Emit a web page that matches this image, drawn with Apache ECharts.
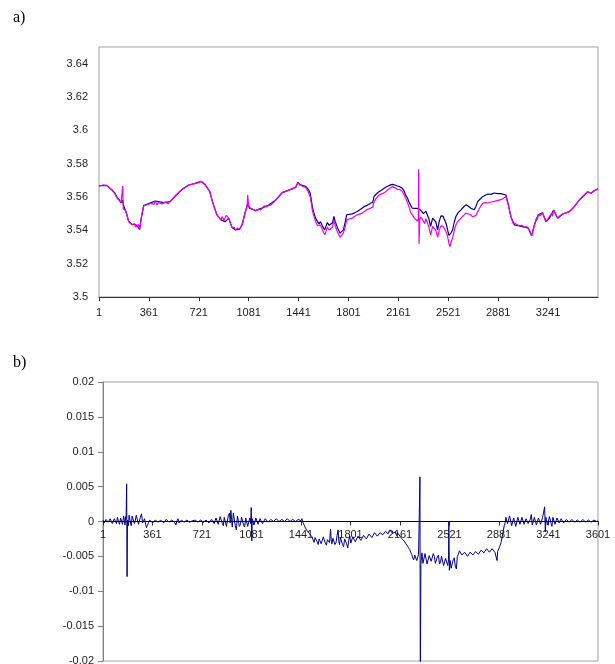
<!DOCTYPE html>
<html>
<head>
<meta charset="utf-8">
<title>a) / b)</title>
<script src="https://cdn.jsdelivr.net/npm/echarts@6/dist/echarts.min.js"></script>
<style>
  html, body { margin: 0; padding: 0; background: #fff; }
  #main { width: 615px; height: 664px; }
</style>
</head>
<body>
<div id="main"></div>
<script>
// panel a) — [sample index - 1, value]
const magentaPts = [
  [0,3.5666],[30,3.5672],[58,3.5670],[94,3.5640],[115,3.5618],[130,3.5594],[145,3.5580],[159,3.5564],[168,3.5560],[171,3.5666],
  [175,3.5530],[178,3.5542],[190,3.5520],[197,3.5504],[214,3.5452],[225,3.5440],[238,3.5433],[248,3.5445],[255,3.5438],[265,3.5420],
  [274,3.5427],[285,3.5436],[293,3.5403],[305,3.5473],[322,3.5546],[340,3.5552],[350,3.5545],[358,3.5558],[365,3.5565],[380,3.5562],
  [395,3.5555],[406,3.5576],[418,3.5552],[428,3.5568],[440,3.5562],[455,3.5558],[467,3.5566],[478,3.5570],[490,3.5562],[500,3.5560],
  [514,3.5572],[530,3.5588],[550,3.5606],[575,3.5628],[599,3.5646],[620,3.5656],[647,3.5672],[670,3.5676],[695,3.5682],[715,3.5686],
  [736,3.5694],[755,3.5684],[767,3.5672],[785,3.5650],[799,3.5632],[810,3.5600],[822,3.5562],[836,3.5528],[851,3.5493],[858,3.5505],
  [865,3.5478],[872,3.5470],[880,3.5463],[888,3.5482],[895,3.5470],[903,3.5460],[911,3.5452],[918,3.5490],[925,3.5480],[936,3.5473],
  [942,3.5460],[948,3.5440],[953,3.5435],[959,3.5419],[970,3.5410],[977,3.5418],[983,3.5403],[990,3.5398],[1000,3.5412],[1008,3.5420],
  [1015,3.5407],[1023,3.5398],[1032,3.5433],[1056,3.5512],[1068,3.5540],[1073,3.5612],[1080,3.5540],[1087,3.5533],[1105,3.5528],[1128,3.5518],
  [1140,3.5530],[1150,3.5526],[1165,3.5522],[1176,3.5533],[1190,3.5545],[1200,3.5546],[1215,3.5545],[1225,3.5552],[1239,3.5552],[1260,3.5568],
  [1275,3.5582],[1300,3.5606],[1322,3.5626],[1350,3.5634],[1383,3.5646],[1400,3.5650],[1419,3.5658],[1436,3.5688],[1448,3.5672],[1460,3.5666],
  [1491,3.5658],[1510,3.5630],[1524,3.5602],[1539,3.5522],[1550,3.5485],[1563,3.5452],[1575,3.5430],[1587,3.5419],[1598,3.5432],[1611,3.5403],
  [1628,3.5373],[1640,3.5400],[1647,3.5419],[1660,3.5402],[1671,3.5413],[1685,3.5420],[1695,3.5463],[1705,3.5425],[1719,3.5393],[1739,3.5359],
  [1750,3.5368],[1763,3.5383],[1775,3.5420],[1787,3.5463],[1795,3.5455],[1805,3.5468],[1815,3.5460],[1827,3.5473],[1845,3.5485],[1855,3.5478],
  [1863,3.5493],[1875,3.5488],[1890,3.5500],[1900,3.5495],[1912,3.5512],[1925,3.5508],[1935,3.5525],[1948,3.5518],[1960,3.5533],[1975,3.5540],
  [1984,3.5572],[2000,3.5592],[2010,3.5590],[2020,3.5612],[2030,3.5608],[2045,3.5620],[2055,3.5616],[2068,3.5632],[2080,3.5630],[2090,3.5648],
  [2100,3.5644],[2116,3.5662],[2125,3.5654],[2135,3.5655],[2152,3.5646],[2170,3.5645],[2188,3.5632],[2200,3.5615],[2212,3.5592],[2225,3.5570],
  [2236,3.5542],[2250,3.5505],[2260,3.5493],[2272,3.5478],[2284,3.5482],[2296,3.5455],[2304,3.5470],[2306,3.5766],[2309,3.5319],[2314,3.5462],
  [2322,3.5480],[2332,3.5473],[2340,3.5455],[2350,3.5440],[2358,3.5470],[2368,3.5467],[2380,3.5420],[2392,3.5373],[2400,3.5400],[2407,3.5423],
  [2419,3.5433],[2430,3.5400],[2443,3.5359],[2455,3.5400],[2467,3.5427],[2482,3.5425],[2496,3.5413],[2505,3.5390],[2515,3.5363],[2525,3.5320],
  [2532,3.5303],[2540,3.5330],[2551,3.5353],[2563,3.5400],[2575,3.5433],[2590,3.5455],[2600,3.5450],[2611,3.5473],[2620,3.5468],[2630,3.5490],
  [2647,3.5503],[2665,3.5498],[2683,3.5493],[2695,3.5480],[2707,3.5473],[2720,3.5490],[2732,3.5512],[2750,3.5540],[2768,3.5562],[2780,3.5558],
  [2790,3.5566],[2805,3.5564],[2816,3.5572],[2828,3.5570],[2840,3.5576],[2852,3.5574],[2864,3.5582],[2878,3.5580],[2890,3.5586],[2900,3.5584],
  [2912,3.5592],[2936,3.5602],[2953,3.5552],[2972,3.5482],[2985,3.5445],[2996,3.5433],[3005,3.5440],[3015,3.5438],[3032,3.5427],[3050,3.5430],
  [3068,3.5419],[3085,3.5422],[3097,3.5413],[3110,3.5395],[3121,3.5367],[3133,3.5405],[3145,3.5443],[3157,3.5478],[3163,3.5465],[3169,3.5493],
  [3185,3.5488],[3200,3.5506],[3212,3.5478],[3225,3.5452],[3237,3.5468],[3249,3.5473],[3265,3.5500],[3272,3.5485],[3280,3.5522],[3295,3.5495],
  [3309,3.5473],[3325,3.5488],[3335,3.5482],[3345,3.5498],[3358,3.5492],[3370,3.5505],[3382,3.5500],[3393,3.5512],[3410,3.5525],[3429,3.5542],
  [3447,3.5562],[3465,3.5582],[3483,3.5598],[3501,3.5612],[3525,3.5632],[3549,3.5622],[3573,3.5638],[3600,3.5650]
];
const navyPts = [
  [0,3.5666],[30,3.5670],[58,3.5668],[94,3.5642],[115,3.5622],[130,3.5598],[145,3.5584],[159,3.5566],[168,3.5562],[171,3.5580],
  [175,3.5560],[178,3.5546],[190,3.5522],[197,3.5506],[214,3.5454],[225,3.5442],[238,3.5435],[255,3.5438],[274,3.5429],[293,3.5405],
  [305,3.5475],[322,3.5548],[358,3.5560],[406,3.5576],[467,3.5566],[514,3.5572],[550,3.5606],[599,3.5646],[647,3.5672],[695,3.5682],
  [736,3.5694],[767,3.5672],[799,3.5632],[822,3.5562],[851,3.5493],[880,3.5463],[911,3.5452],[936,3.5473],[959,3.5419],[983,3.5403],
  [1015,3.5407],[1032,3.5433],[1056,3.5512],[1073,3.5560],[1087,3.5533],[1128,3.5518],[1176,3.5533],[1225,3.5552],[1275,3.5582],[1322,3.5626],
  [1383,3.5646],[1419,3.5658],[1436,3.5688],[1448,3.5674],[1460,3.5670],[1491,3.5664],[1510,3.5646],[1524,3.5622],[1539,3.5542],[1550,3.5505],
  [1563,3.5472],[1575,3.5455],[1587,3.5439],[1598,3.5452],[1611,3.5427],[1628,3.5403],[1640,3.5430],[1647,3.5447],[1660,3.5430],[1671,3.5439],
  [1685,3.5446],[1695,3.5483],[1705,3.5450],[1719,3.5419],[1739,3.5383],[1750,3.5392],[1763,3.5403],[1775,3.5445],[1787,3.5493],[1795,3.5485],
  [1805,3.5496],[1815,3.5490],[1827,3.5499],[1845,3.5505],[1855,3.5506],[1863,3.5513],[1875,3.5515],[1890,3.5528],[1900,3.5522],[1912,3.5542],
  [1925,3.5535],[1935,3.5550],[1948,3.5548],[1960,3.5562],[1975,3.5568],[1984,3.5602],[2000,3.5618],[2010,3.5615],[2020,3.5632],[2030,3.5630],
  [2045,3.5645],[2055,3.5640],[2068,3.5658],[2080,3.5652],[2090,3.5668],[2100,3.5664],[2116,3.5676],[2125,3.5674],[2135,3.5672],[2152,3.5666],
  [2170,3.5662],[2188,3.5652],[2200,3.5638],[2212,3.5612],[2225,3.5594],[2236,3.5572],[2250,3.5548],[2260,3.5533],[2272,3.5528],[2284,3.5532],
  [2296,3.5528],[2304,3.5530],[2314,3.5530],[2322,3.5520],[2332,3.5532],[2340,3.5500],[2350,3.5510],[2358,3.5515],[2368,3.5503],[2380,3.5470],
  [2392,3.5423],[2400,3.5450],[2407,3.5473],[2419,3.5483],[2430,3.5450],[2443,3.5403],[2455,3.5455],[2467,3.5487],[2482,3.5485],[2496,3.5483],
  [2505,3.5440],[2515,3.5403],[2525,3.5370],[2532,3.5359],[2540,3.5385],[2551,3.5403],[2563,3.5450],[2575,3.5483],[2590,3.5505],[2600,3.5498],
  [2611,3.5523],[2620,3.5520],[2630,3.5540],[2647,3.5553],[2665,3.5545],[2683,3.5533],[2695,3.5528],[2707,3.5523],[2720,3.5545],[2732,3.5572],
  [2750,3.5588],[2768,3.5602],[2780,3.5608],[2790,3.5612],[2805,3.5618],[2816,3.5622],[2828,3.5616],[2840,3.5618],[2852,3.5624],[2864,3.5626],
  [2878,3.5620],[2890,3.5628],[2900,3.5620],[2912,3.5622],[2936,3.5612],[2953,3.5554],[2972,3.5482],[2996,3.5433],[3032,3.5427],[3068,3.5419],
  [3097,3.5413],[3121,3.5367],[3145,3.5443],[3169,3.5493],[3200,3.5506],[3225,3.5452],[3249,3.5473],[3280,3.5522],[3309,3.5473],[3345,3.5498],
  [3393,3.5512],[3429,3.5542],[3465,3.5582],[3501,3.5612],[3525,3.5632],[3549,3.5622],[3573,3.5638],[3600,3.5650]
];

// panel b) — difference
const diffPts = [
  [0,0.0002],[8,-0.0002],[15,-0.0003],[22,0.0003],[30,0.0004],[38,-0.0001],[45,0.0000],[52,0.0004],[60,0.0005],[68,-0.0003],
  [75,-0.0002],[82,0.0004],[90,0.0003],[98,-0.0003],[105,0.0006],[112,0.0001],[120,-0.0004],[128,0.0005],[135,0.0003],[142,-0.0004],
  [150,0.0008],[155,0.0002],[160,-0.0005],[165,0.0007],[168,0.0004],[172,0.0054],[175,-0.0079],[178,0.0002],[184,-0.0006],[190,0.0009],
  [197,0.0001],[205,-0.0006],[212,0.0008],[220,0.0010],[228,-0.0003],[235,0.0002],[242,0.0009],[250,0.0007],[258,-0.0004],[265,-0.0003],
  [272,0.0006],[280,0.0011],[288,-0.0002],[295,0.0001],[302,0.0004],[310,-0.0004],[316,-0.0009],[322,-0.0006],[330,-0.0002],[340,0.0002],
  [350,0.0001],[360,-0.0002],[370,-0.0003],[380,0.0002],[390,0.0002],[400,-0.0001],[410,-0.0002],[420,0.0002],[430,0.0003],[440,-0.0002],
  [450,-0.0001],[460,0.0003],[470,0.0002],[480,-0.0001],[490,-0.0003],[500,0.0002],[510,0.0001],[520,-0.0001],[530,-0.0005],[538,0.0001],
  [545,0.0004],[552,-0.0002],[560,-0.0001],[570,0.0002],[580,0.0001],[590,-0.0001],[600,-0.0002],[610,0.0002],[620,0.0001],[630,-0.0001],
  [640,-0.0003],[650,0.0001],[660,0.0000],[670,0.0002],[680,0.0002],[690,-0.0001],[700,-0.0001],[710,0.0002],[720,0.0001],[730,-0.0001],
  [740,0.0000],[750,0.0002],[760,0.0002],[770,-0.0002],[780,-0.0001],[790,0.0003],[800,0.0003],[808,-0.0003],[815,-0.0004],[822,0.0005],
  [830,0.0006],[838,-0.0004],[845,-0.0002],[852,0.0007],[860,0.0008],[868,-0.0003],[875,-0.0006],[882,0.0006],[890,0.0004],[898,-0.0007],
  [905,-0.0005],[912,0.0009],[920,0.0012],[925,-0.0002],[930,0.0016],[935,0.0003],[940,-0.0008],[948,0.0012],[955,0.0010],[962,-0.0006],
  [970,-0.0012],[978,0.0008],[985,0.0006],[992,-0.0007],[1000,-0.0004],[1008,0.0006],[1015,0.0007],[1022,-0.0005],[1030,-0.0008],[1038,0.0005],
  [1045,0.0003],[1052,-0.0007],[1060,-0.0006],[1068,0.0005],[1074,-0.0003],[1078,0.0020],[1082,-0.0028],[1086,0.0004],[1090,0.0002],[1098,-0.0005],
  [1105,-0.0006],[1112,0.0005],[1120,0.0004],[1128,-0.0004],[1135,-0.0003],[1142,0.0004],[1150,0.0002],[1160,-0.0003],[1170,-0.0002],[1180,0.0004],
  [1190,0.0003],[1200,-0.0001],[1210,0.0000],[1220,0.0003],[1230,0.0004],[1240,0.0000],[1250,0.0001],[1260,0.0004],[1270,0.0003],[1280,0.0000],
  [1290,-0.0001],[1300,0.0003],[1310,0.0004],[1320,0.0000],[1330,0.0001],[1340,0.0004],[1350,0.0003],[1360,0.0000],[1370,-0.0001],[1380,0.0003],
  [1390,0.0002],[1400,0.0000],[1410,0.0000],[1420,0.0003],[1430,0.0003],[1440,0.0001],[1447,0.0004],[1455,-0.0002],[1465,-0.0006],[1472,-0.0009],
  [1480,-0.0012],[1490,-0.0014],[1500,-0.0017],[1510,-0.0019],[1520,-0.0022],[1527,-0.0026],[1535,-0.0030],[1542,-0.0023],[1550,-0.0021],[1557,-0.0029],
  [1565,-0.0033],[1572,-0.0025],[1580,-0.0024],[1587,-0.0032],[1595,-0.0031],[1602,-0.0022],[1610,-0.0020],[1617,-0.0031],[1625,-0.0034],[1632,-0.0026],
  [1640,-0.0025],[1647,-0.0030],[1655,-0.0011],[1660,-0.0028],[1665,-0.0032],[1672,-0.0024],[1680,-0.0022],[1687,-0.0033],[1695,-0.0030],[1702,-0.0020],
  [1710,-0.0012],[1715,-0.0029],[1720,-0.0033],[1727,-0.0023],[1735,-0.0024],[1742,-0.0033],[1750,-0.0036],[1757,-0.0025],[1765,-0.0026],[1772,-0.0032],
  [1780,-0.0038],[1787,-0.0027],[1795,-0.0021],[1802,-0.0031],[1810,-0.0030],[1817,-0.0022],[1825,-0.0024],[1835,-0.0029],[1845,-0.0028],[1855,-0.0021],
  [1865,-0.0022],[1875,-0.0027],[1885,-0.0026],[1895,-0.0020],[1905,-0.0020],[1915,-0.0025],[1925,-0.0024],[1935,-0.0018],[1945,-0.0019],[1955,-0.0023],
  [1965,-0.0022],[1975,-0.0016],[1985,-0.0017],[1995,-0.0021],[2005,-0.0020],[2015,-0.0016],[2025,-0.0015],[2035,-0.0019],[2045,-0.0018],[2055,-0.0014],
  [2065,-0.0013],[2072,-0.0018],[2080,-0.0017],[2088,-0.0012],[2095,-0.0014],[2105,-0.0017],[2115,-0.0018],[2125,-0.0015],[2135,-0.0020],[2142,-0.0016],
  [2150,-0.0017],[2160,-0.0021],[2170,-0.0024],[2180,-0.0026],[2190,-0.0028],[2200,-0.0031],[2210,-0.0034],[2220,-0.0037],[2230,-0.0040],[2238,-0.0044],
  [2245,-0.0047],[2252,-0.0052],[2260,-0.0055],[2267,-0.0048],[2275,-0.0050],[2282,-0.0056],[2290,-0.0058],[2295,-0.0047],[2300,-0.0049],[2305,0.0064],
  [2308,-0.0260],[2312,-0.0062],[2316,-0.0050],[2320,-0.0045],[2327,-0.0060],[2335,-0.0058],[2342,-0.0046],[2350,-0.0048],[2357,-0.0061],[2365,-0.0060],
  [2372,-0.0049],[2380,-0.0047],[2387,-0.0057],[2395,-0.0056],[2402,-0.0046],[2410,-0.0050],[2417,-0.0060],[2425,-0.0062],[2432,-0.0051],[2440,-0.0048],
  [2447,-0.0061],[2455,-0.0058],[2462,-0.0050],[2470,-0.0052],[2477,-0.0063],[2485,-0.0064],[2492,-0.0053],[2500,-0.0055],[2507,-0.0063],[2513,-0.0055],
  [2515,0.0000],[2519,-0.0070],[2525,-0.0056],[2532,-0.0067],[2540,-0.0066],[2547,-0.0055],[2555,-0.0052],[2562,-0.0064],[2570,-0.0068],[2577,-0.0050],
  [2585,-0.0047],[2592,-0.0042],[2600,-0.0044],[2610,-0.0048],[2620,-0.0050],[2630,-0.0044],[2640,-0.0045],[2650,-0.0050],[2660,-0.0049],[2670,-0.0044],
  [2680,-0.0043],[2690,-0.0048],[2700,-0.0048],[2710,-0.0043],[2720,-0.0042],[2730,-0.0047],[2740,-0.0046],[2750,-0.0041],[2760,-0.0040],[2770,-0.0045],
  [2780,-0.0044],[2790,-0.0039],[2800,-0.0039],[2810,-0.0044],[2820,-0.0043],[2830,-0.0039],[2840,-0.0040],[2850,-0.0044],[2860,-0.0045],[2866,-0.0056],
  [2870,-0.0043],[2875,-0.0041],[2885,-0.0036],[2895,-0.0030],[2903,-0.0022],[2910,-0.0015],[2918,-0.0006],[2925,-0.0002],[2930,0.0006],[2935,0.0004],
  [2942,-0.0003],[2950,-0.0005],[2957,0.0008],[2965,0.0007],[2972,-0.0006],[2980,-0.0004],[2987,0.0005],[2995,0.0006],[3002,-0.0007],[3010,-0.0006],
  [3017,0.0006],[3025,0.0005],[3032,-0.0004],[3040,-0.0003],[3047,0.0006],[3055,0.0007],[3062,-0.0004],[3070,-0.0005],[3077,0.0004],[3085,0.0003],
  [3092,-0.0003],[3100,-0.0002],[3107,0.0003],[3115,0.0010],[3122,-0.0005],[3130,-0.0004],[3137,0.0006],[3145,0.0004],[3152,-0.0005],[3160,-0.0006],
  [3167,0.0005],[3175,0.0006],[3182,-0.0004],[3190,-0.0003],[3197,0.0006],[3205,0.0005],[3212,0.0021],[3217,-0.0015],[3221,0.0006],[3225,0.0003],
  [3232,-0.0005],[3240,-0.0006],[3247,0.0007],[3255,0.0008],[3260,-0.0004],[3265,-0.0007],[3272,0.0006],[3280,0.0005],[3287,-0.0004],[3295,-0.0003],
  [3302,0.0005],[3310,0.0004],[3317,-0.0002],[3325,-0.0002],[3332,0.0004],[3340,0.0003],[3350,-0.0002],[3360,-0.0001],[3370,0.0003],[3380,0.0003],
  [3390,-0.0001],[3400,0.0000],[3410,0.0003],[3420,0.0002],[3430,-0.0001],[3440,-0.0001],[3450,0.0002],[3460,0.0003],[3470,-0.0001],[3480,0.0000],
  [3490,0.0003],[3500,0.0002],[3510,-0.0001],[3520,-0.0001],[3530,0.0002],[3540,0.0002],[3550,-0.0001],[3560,0.0000],[3570,0.0002],[3580,0.0003],
  [3590,0.0000],[3600,0.0001]
];

const labelFont = { fontFamily: 'Liberation Sans, Arial, sans-serif', fontSize: 11, color: '#222' };
const serif = '16px "Liberation Serif", "Times New Roman", serif';

const chart = echarts.init(document.getElementById('main'));
const option = {
    animation: false,
    backgroundColor: '#fff',
    graphic: [
        { type: 'text', left: 13, top: 10, style: { text: 'a)', font: serif, fill: '#000' } },
        { type: 'text', left: 13, top: 355, style: { text: 'b)', font: serif, fill: '#000' } }
    ],
    grid: [
        { left: 99, top: 47, width: 499, height: 250, show: true, borderColor: '#a0a0a0', borderWidth: 1, outerBoundsMode: 'none' },
        { left: 103, top: 382, width: 495, height: 279, show: true, borderColor: '#a0a0a0', borderWidth: 1, outerBoundsMode: 'none' }
    ],
    xAxis: [
        {
            gridIndex: 0, type: 'value', min: 0, max: 3600, interval: 360,
            axisLine: { show: true, lineStyle: { color: '#333', width: 1 } },
            axisTick: { show: true, length: 4, lineStyle: { color: '#333' } },
            axisLabel: Object.assign({ margin: 10, showMaxLabel: false, formatter: v => String(v + 1) }, labelFont),
            splitLine: { show: false }
        },
        {
            // moved up onto the zero line (grid height 279 -> zero at half)
            gridIndex: 1, type: 'value', min: 0, max: 3600, interval: 360,
            position: 'bottom', offset: -139.5,
            axisLine: { show: true, onZero: false, lineStyle: { color: '#000', width: 1 } },
            axisTick: { show: true, length: 4, lineStyle: { color: '#333' } },
            axisLabel: Object.assign({ margin: 8, showMinLabel: true, showMaxLabel: true, hideOverlap: false, formatter: v => String(v + 1) }, labelFont),
            splitLine: { show: false }
        }
    ],
    yAxis: [
        {
            gridIndex: 0, type: 'value', min: 3.5, max: 3.65, interval: 0.02,
            axisLine: { show: false },
            axisTick: { show: false },
            axisLabel: Object.assign({ margin: 11, showMaxLabel: false }, labelFont),
            splitLine: { show: false }
        },
        {
            gridIndex: 1, type: 'value', min: -0.02, max: 0.02, interval: 0.005,
            axisLine: { show: true, onZero: false, lineStyle: { color: '#808080', width: 1 } },
            axisTick: { show: true, length: 5, lineStyle: { color: '#808080' } },
            axisLabel: Object.assign({ margin: 9 }, labelFont),
            splitLine: { show: false }
        }
    ],
    series: [
        {
            name: 'navy', type: 'line', xAxisIndex: 0, yAxisIndex: 0,
            data: navyPts, showSymbol: false, symbol: 'none',
            lineStyle: { color: '#000080', width: 1.2 }
        },
        {
            name: 'magenta', type: 'line', xAxisIndex: 0, yAxisIndex: 0,
            data: magentaPts, showSymbol: false, symbol: 'none',
            lineStyle: { color: '#ee00ee', width: 1.2 }
        },
        {
            name: 'diff', type: 'line', xAxisIndex: 1, yAxisIndex: 1,
            data: diffPts, showSymbol: false, symbol: 'none', clip: true,
            lineStyle: { color: '#000080', width: 1 }
        }
    ]
};
chart.setOption(option);
</script>
</body>
</html>
